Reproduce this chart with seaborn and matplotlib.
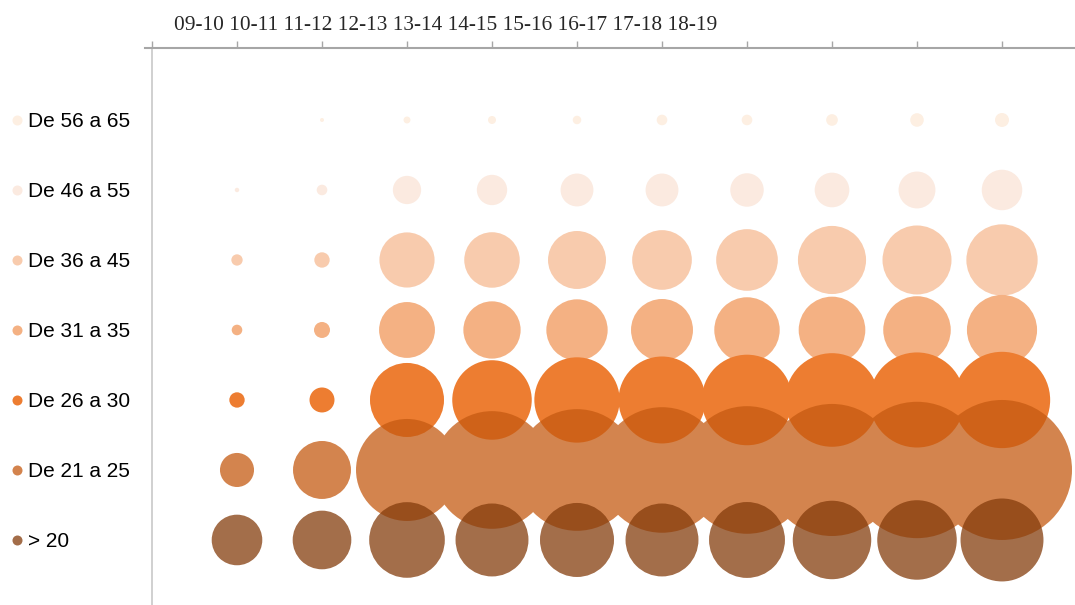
import pandas as pd
import matplotlib.pyplot as plt
import matplotlib.transforms as mtransforms
import seaborn as sns

# franjas horarias (eje superior)
periods = ["09-10", "10-11", "11-12", "12-13", "13-14", "14-15", "15-16", "16-17", "17-18", "18-19"]

# grupos de edad, de abajo hacia arriba
ages = ["> 20", "De 21 a 25", "De 26 a 30", "De 31 a 35", "De 36 a 45", "De 46 a 55", "De 56 a 65"]

# valores estimados (proporcionales al área de cada burbuja)
v_lt20 = [64, 86, 143, 133, 137, 133, 144, 154, 158, 172]
v_21_25 = [29, 84, 260, 346, 370, 394, 407, 436, 465, 490]
v_26_30 = [5.9, 15.6, 137, 158, 182, 189, 205, 219, 226, 232]
v_31_35 = [2.8, 6.4, 78, 82, 94, 96, 107, 111, 114, 123]
v_36_45 = [3.2, 5.9, 76, 77, 84, 89, 95, 116, 119, 127]
v_46_55 = [0.5, 2.8, 20, 23, 27, 27, 28, 30, 34, 41]
v_56_65 = [0, 0.4, 1.2, 1.6, 1.8, 2.8, 2.8, 3.4, 4.6, 4.9]

values = [v_lt20, v_21_25, v_26_30, v_31_35, v_36_45, v_46_55, v_56_65]
colors = ["#843C0C", "#C55A11", "#ED7D31", "#F4B183", "#F8CBAD", "#FBEAE0", "#FDEFE2"]
alphas = [0.75, 0.75, 1, 1, 1, 1, 1]

rows = []
for yi, (age, vals) in enumerate(zip(ages, values)):
    for xi, v in enumerate(vals):
        rows.append({"edad": age, "ypos": yi, "xpos": xi + 1, "valor": v})
df = pd.DataFrame(rows)


def group_alpha(a):
    """Opacidad de grupo: las burbujas de una misma serie no se oscurecen entre sí."""
    def _filter(img, dpi):
        img = img.copy()
        # el backend aplica el alfa dos veces al componer la imagen filtrada
        img[..., 3] *= a ** 0.5
        return img, 0, 0
    return _filter


sns.set_style("white")
plt.rcParams["font.family"] = ["Liberation Sans", "DejaVu Sans"]

W, H, DPI = 1075, 605, 100
fig = plt.figure(figsize=(W / DPI, H / DPI), dpi=DPI)
ax = fig.add_axes([145 / W, 0, (W - 145) / W, 1 - 48.3 / H])

# área en pt^2 por unidad de valor (radio px^2 = 10 * valor)
k = 4 * (72 / DPI) ** 2 * 10
vmax = df["valor"].max()

# dibujar de arriba hacia abajo para que los grupos jóvenes queden encima
for yi in range(len(ages) - 1, -1, -1):
    sub = df[df["edad"] == ages[yi]]
    sns.scatterplot(data=sub, x="xpos", y="ypos", size="valor",
                    sizes=(0, k * vmax), size_norm=(0, vmax),
                    color=colors[yi], linewidth=0, edgecolor="none",
                    legend=False, ax=ax)
    if alphas[yi] < 1:
        ax.collections[-1].set_agg_filter(group_alpha(alphas[yi]))

ax.set_xlim(-7 / 85, (W - 152) / 85)
ax.set_ylim(-0.929, 7.024)
ax.set_xlabel("")
ax.set_ylabel("")

ax.spines["right"].set_visible(False)
ax.spines["bottom"].set_visible(False)
ax.spines["left"].set_position(("data", 0))
ax.spines["left"].set_color("#c8c8c8")
ax.spines["left"].set_linewidth(1.2)
ax.spines["top"].set_color("#a6a6a6")
ax.spines["top"].set_linewidth(1.5)

ax.xaxis.tick_top()
ax.set_xticks(range(0, len(periods) + 1))
ax.set_xticklabels([])
ax.tick_params(axis="x", direction="out", length=5, width=1, color="#a6a6a6")
ax.set_yticks(range(len(ages)))
ax.set_yticklabels([])
ax.tick_params(axis="y", direction="out", length=5.8, width=1, color="#bfbfbf")

# leyenda a la izquierda: punto de color + etiqueta
trans = mtransforms.blended_transform_factory(fig.transFigure, ax.transData)
text_trans = mtransforms.offset_copy(trans, fig=fig, y=-7.5, units="dots")
for yi, age in enumerate(ages):
    ax.scatter([17.3 / W], [yi], s=52, color=colors[yi], alpha=alphas[yi],
               linewidth=0, transform=trans, clip_on=False)
    ax.text(27.5 / W, yi, age, transform=text_trans, fontsize=15,
            va="baseline", ha="left", color="black")

# etiquetas de las franjas, tal como aparecen en la imagen
fig.text(174 / W, 1 - 30 / H, " ".join(periods), fontsize=15.4,
         family=["Liberation Serif", "DejaVu Serif"], va="baseline", ha="left")

fig.savefig("out.png", dpi=DPI)
